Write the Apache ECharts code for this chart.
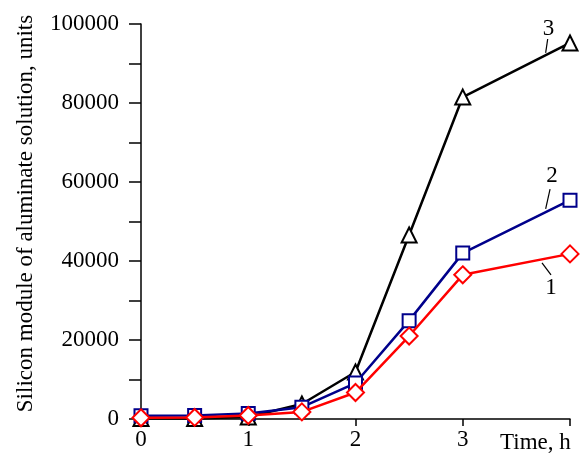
<!DOCTYPE html>
<html><head><meta charset="utf-8">
<script src="https://cdn.jsdelivr.net/npm/echarts@6/dist/echarts.min.js"></script>
<style>html,body{margin:0;padding:0;background:#fff}#c{width:581px;height:453px}</style>
</head><body><div id="c"></div>
<script>
const timeH = [0, 0.5, 1, 1.5, 2, 2.5, 3, 4];
const series3 = [100, 100, 500, 3800, 11900, 46600, 81500, 95200];
const series2 = [800, 900, 1400, 3000, 9100, 24900, 42000, 55400];
const series1 = [300, 400, 900, 1800, 6700, 21000, 36500, 41800];
const xTickLabels = ['0', '1', '2', '3', ''];
const yTickLabels = ['0', '20000', '40000', '60000', '80000', '100000'];
const seriesNames = ['3', '2', '1'];
// annotation label anchors (data units): [labelX, labelY, lineX1, lineY1, lineX2, lineY2]
const annot3 = [3.80, 98700, 3.792, 96200, 3.773, 92700];
const annot2 = [3.832, 61500, 3.814, 58200, 3.773, 53200];
const annot1 = [3.823, 33200, 3.739, 39500, 3.823, 36500];

const FONT = 'Liberation Serif';
const chart = echarts.init(document.getElementById('c'), null, {renderer: 'canvas'});
function pts(arr){ return timeH.map((t,i)=>[t, arr[i]]); }
const option = {
  backgroundColor: '#fff',
  animation: false,
  grid: {left: 141, right: 11, top: 24, bottom: 34, containLabel: false, outerBoundsMode: 'none'},
  xAxis: {
    type: 'value', min: 0, max: 4, interval: 1,
    axisLine: {lineStyle: {color: '#000', width: 1.5}},
    axisTick: {show: true, inside: false, length: 7, lineStyle: {color: '#000', width: 1.5}},
    axisLabel: {color: '#000', fontFamily: FONT, fontSize: 23, margin: 9,
      formatter: v => xTickLabels[Math.round(v)] || ''},
    splitLine: {show: false},
    name: 'Time, h', nameLocation: 'end', nameGap: -70,
    nameTextStyle: {color: '#000', fontFamily: FONT, fontSize: 23, align: 'left', verticalAlign: 'top', padding: [12, 0, 0, 0]}
  },
  yAxis: {
    type: 'value', min: 0, max: 100000, interval: 10000,
    axisLine: {show: true, lineStyle: {color: '#000', width: 1.5}},
    axisTick: {show: true, inside: false, length: 12, lineStyle: {color: '#000', width: 1.5}},
    axisLabel: {color: '#000', fontFamily: FONT, fontSize: 23, margin: 22,
      formatter: v => (v % 20000 === 0) ? yTickLabels[v / 20000] : ''},
    splitLine: {show: false},
    name: 'Silicon module of aluminate solution, units', nameLocation: 'middle', nameGap: 104, nameRotate: 90,
    nameTextStyle: {color: '#000', fontFamily: FONT, fontSize: 23, padding: [0, 0, 0, 16]}
  },
  series: [
    {name: seriesNames[0], type: 'line', data: pts(series3), symbol: 'triangle', symbolSize: 15,
     lineStyle: {color: '#000', width: 2.5}, itemStyle: {color: '#fff', borderColor: '#000', borderWidth: 2}, z: 2},
    {name: seriesNames[1], type: 'line', data: pts(series2), symbol: 'rect', symbolSize: 13,
     lineStyle: {color: '#00008B', width: 2.5}, itemStyle: {color: '#fff', borderColor: '#00008B', borderWidth: 2}, z: 3},
    {name: seriesNames[2], type: 'line', data: pts(series1), symbol: 'diamond', symbolSize: 17,
     lineStyle: {color: '#FF0000', width: 2.5}, itemStyle: {color: '#fff', borderColor: '#FF0000', borderWidth: 2}, z: 4}
  ]
};
chart.setOption(option);
const graphics = [];
[[seriesNames[0], annot3], [seriesNames[1], annot2], [seriesNames[2], annot1]].forEach(([txt, a]) => {
  const p = chart.convertToPixel({gridIndex: 0}, [a[0], a[1]]);
  const p1 = chart.convertToPixel({gridIndex: 0}, [a[2], a[3]]);
  const p2 = chart.convertToPixel({gridIndex: 0}, [a[4], a[5]]);
  graphics.push({type: 'text', x: p[0], y: p[1], z: 10,
    style: {text: txt, fill: '#000', font: '23px "' + FONT + '"', textAlign: 'center', textVerticalAlign: 'middle'}});
  graphics.push({type: 'line', z: 10, shape: {x1: p1[0], y1: p1[1], x2: p2[0], y2: p2[1]},
    style: {stroke: '#000', lineWidth: 1.2}});
});
chart.setOption({graphic: graphics});
</script></body></html>
